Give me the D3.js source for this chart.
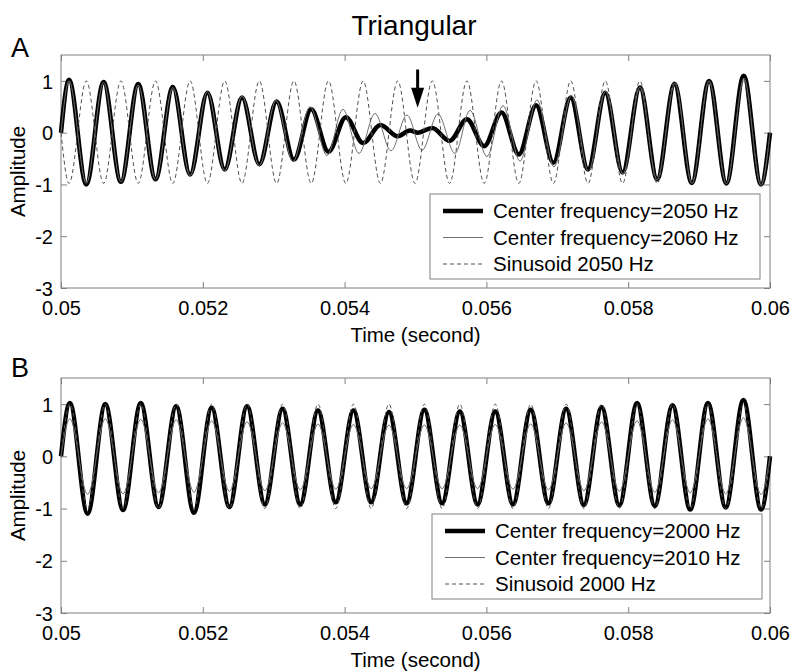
<!DOCTYPE html>
<html>
<head>
<meta charset="utf-8">
<script src="https://cdn.jsdelivr.net/npm/d3@7"></script>
<style>
  body { margin: 0; background: #fff; }
</style>
</head>
<body>
<script>
// ---- data (extrema of each waveform, seconds / amplitude) ----
const xTicks = [0.05, 0.052, 0.054, 0.056, 0.058, 0.06];
const xTickLabels = ["0.05", "0.052", "0.054", "0.056", "0.058", "0.06"];
const yTicks = [-3, -2, -1, 0, 1];

// Panel A
const tCenterA = [0.05, 0.050113, 0.050357, 0.050601, 0.050845, 0.051089, 0.051333, 0.051577, 0.051821, 0.052065, 0.052309,
  0.052553, 0.052797, 0.053041, 0.053285, 0.053529, 0.053773, 0.054017, 0.054261, 0.054505, 0.054749, 0.054922, 0.055035,
  0.055237, 0.055481, 0.055725, 0.055969, 0.056213, 0.056457, 0.056701, 0.056945, 0.057189, 0.057433, 0.057677, 0.057921,
  0.058165, 0.058409, 0.058653, 0.058897, 0.059141, 0.059385, 0.059629, 0.059873, 0.06];
const vCenterA = [0, 1.02, -1.0, 0.98, -0.95, 0.94, -0.9, 0.88, -0.81, 0.77, -0.71, 0.68, -0.61, 0.6, -0.52, 0.45, -0.37,
  0.3, -0.2, 0.15, -0.07, 0.04, 0.0, 0.09, -0.16, 0.26, -0.26, 0.39, -0.42, 0.53, -0.58, 0.68, -0.71, 0.77, -0.77, 0.87,
  -0.9, 0.94, -0.97, 1.0, -0.98, 1.1, -1.0, 0];

const tThinA = [0.05, 0.050113, 0.050357, 0.050601, 0.050845, 0.051089, 0.051333, 0.051577, 0.051821, 0.052065, 0.052309,
  0.052553, 0.052797, 0.053032, 0.053272, 0.053512, 0.053752, 0.053977, 0.054203, 0.054429, 0.054654, 0.05488, 0.055092,
  0.055317, 0.055557, 0.055769, 0.056008, 0.056234, 0.056474, 0.056714, 0.056953, 0.0572, 0.05744, 0.05768, 0.057927,
  0.058166, 0.058406, 0.05866, 0.0589, 0.05914, 0.059386, 0.059633, 0.059873, 0.06];
const vThinA = [0, 1.0, -0.98, 0.97, -0.95, 0.92, -0.91, 0.87, -0.83, 0.79, -0.74, 0.71, -0.64, 0.62, -0.56, 0.5, -0.44,
  0.45, -0.4, 0.37, -0.35, 0.34, -0.34, 0.36, -0.4, 0.43, -0.46, 0.52, -0.55, 0.63, -0.66, 0.72, -0.75, 0.8, -0.8, 0.88,
  -0.91, 0.95, -0.98, 1.0, -0.99, 1.05, -1.02, 0];

const tSineA = [0.05, 0.050113, 0.050357, 0.050601, 0.050845, 0.051089, 0.051333, 0.051577, 0.051821, 0.052065, 0.052309,
  0.052553, 0.052797, 0.053041, 0.053285, 0.053529, 0.053773, 0.054017, 0.054261, 0.054505, 0.054749, 0.054993, 0.055237,
  0.055481, 0.055725, 0.055969, 0.056213, 0.056457, 0.056701, 0.056945, 0.057189, 0.057433, 0.057677, 0.057921, 0.058165,
  0.058409, 0.058653, 0.058897, 0.059141, 0.059385, 0.059629, 0.059873, 0.06];
const vSineA = [0, -0.98, 1, -0.98, 1, -0.98, 1, -0.98, 1, -0.98, 1, -0.98, 1, -0.98, 1, -0.98, 1, -0.98, 1, -0.98, 1,
  -0.98, 1, -0.98, 1, -0.98, 1, -0.98, 1, -0.98, 1, -0.98, 1, -0.98, 1, -0.98, 1, -0.98, 1, -0.98, 1, -0.98, 0];

// Panel B
const tB = [0.05, 0.050125, 0.050375, 0.050625, 0.050875, 0.051125, 0.051375, 0.051625, 0.051875, 0.052125, 0.052375,
  0.052625, 0.052875, 0.053125, 0.053375, 0.053625, 0.053875, 0.054125, 0.054375, 0.054625, 0.054875, 0.055125, 0.055375,
  0.055625, 0.055875, 0.056125, 0.056375, 0.056625, 0.056875, 0.057125, 0.057375, 0.057625, 0.057875, 0.058125, 0.058375,
  0.058625, 0.058875, 0.059125, 0.059375, 0.059625, 0.059875, 0.06];
const vCenterB = [0, 1.02, -1.1, 1.0, -1.03, 1.02, -0.97, 0.96, -1.08, 0.93, -0.97, 0.96, -0.92, 0.91, -0.92, 0.88, -0.88,
  0.88, -0.88, 0.85, -0.9, 0.89, -0.9, 0.86, -0.92, 0.86, -0.92, 0.89, -0.9, 0.91, -0.93, 0.94, -0.94, 1.02, -0.95, 0.98,
  -1.02, 1.02, -0.98, 1.08, -1.02, 0];
const vThinB = [0, 0.72, -0.73, 0.72, -0.72, 0.71, -0.7, 0.7, -0.69, 0.68, -0.67, 0.66, -0.66, 0.64, -0.64, 0.62, -0.63,
  0.61, -0.62, 0.6, -0.62, 0.6, -0.62, 0.6, -0.62, 0.61, -0.63, 0.62, -0.64, 0.64, -0.66, 0.66, -0.67, 0.68, -0.69, 0.7,
  -0.7, 0.72, -0.72, 0.74, -0.73, 0];
const vSineB = [0, 1, -1, 1, -1, 1, -1, 1, -1, 1, -1, 1, -1, 1, -1, 1, -1, 1, -1, 1, -1, 1, -1, 1, -1, 1, -1, 1, -1, 1, -1,
  1, -1, 1, -1, 1, -1, 1, -1, 1, -1, 0];

const zip = (t, v) => t.map((d, i) => [d, v[i]]);

const styles = {
  center: { stroke: "#000", width: 4.5, dash: null },
  thin: { stroke: "#707070", width: 1, dash: null },
  sine: { stroke: "#505050", width: 1, dash: "4,3" }
};

const panels = [
  {
    letter: "A", top: 55, bottom: 288, letterY: 57,
    legend: { x: 430, y: 194, w: 330, h: 85 },
    series: [
      { label: "Center frequency=2050 Hz", style: "center", data: zip(tCenterA, vCenterA) },
      { label: "Center frequency=2060 Hz", style: "thin", data: zip(tThinA, vThinA) },
      { label: "Sinusoid 2050 Hz", style: "sine", data: zip(tSineA, vSineA) }
    ],
    arrow: { t: 0.05503, from: 1.22, to: 0.48 }
  },
  {
    letter: "B", top: 378, bottom: 613, letterY: 377,
    legend: { x: 432, y: 514, w: 330, h: 85 },
    series: [
      { label: "Center frequency=2000 Hz", style: "center", data: zip(tB, vCenterB) },
      { label: "Center frequency=2010 Hz", style: "thin", data: zip(tB, vThinB) },
      { label: "Sinusoid 2000 Hz", style: "sine", data: zip(tB, vSineB) }
    ]
  }
];

const width = 792, height = 671;
const left = 61, right = 770;
const axisColor = "#808080";

const svg = d3.select("body").append("svg")
  .attr("width", width)
  .attr("height", height)
  .style("font-family", "'Liberation Sans', Arial, Helvetica, sans-serif");

svg.append("text")
  .attr("x", 414).attr("y", 35)
  .attr("text-anchor", "middle")
  .attr("font-size", 28)
  .text("Triangular");

panels.forEach(p => {
  const x = d3.scaleLinear().domain([0.05, 0.06]).range([left, right]);
  const y = d3.scaleLinear().domain([-3, 1.5]).range([p.bottom, p.top]);
  const g = svg.append("g");

  // axes, ticks inward on all four sides
  const styleAxis = (sel) => {
    sel.attr("font-family", null).attr("font-size", 20);
    sel.select(".domain").remove();
    sel.selectAll(".tick line").attr("stroke", axisColor);
    sel.selectAll(".tick text").attr("fill", "#000");
  };

  g.append("g").attr("transform", `translate(0,${p.bottom})`)
    .call(d3.axisBottom(x).tickValues(xTicks).tickFormat((d, i) => xTickLabels[i]).tickSizeInner(-6).tickSizeOuter(0))
    .call(styleAxis)
    .call(s => s.selectAll(".tick text").attr("y", 27).attr("dy", null));

  g.append("g").attr("transform", `translate(0,${p.top})`)
    .call(d3.axisTop(x).tickValues(xTicks).tickFormat("").tickSizeInner(-6).tickSizeOuter(0))
    .call(styleAxis);

  g.append("g").attr("transform", `translate(${left},0)`)
    .call(d3.axisLeft(y).tickValues(yTicks).tickFormat(d => String(d)).tickSizeInner(-6).tickSizeOuter(0))
    .call(styleAxis)
    .call(s => s.selectAll(".tick text").attr("x", -8).attr("dy", "0.36em"));

  g.append("g").attr("transform", `translate(${right},0)`)
    .call(d3.axisRight(y).tickValues(yTicks).tickFormat("").tickSizeInner(-6).tickSizeOuter(0))
    .call(styleAxis);

  g.append("rect")
    .attr("x", left).attr("y", p.top)
    .attr("width", right - left).attr("height", p.bottom - p.top)
    .attr("fill", "none").attr("stroke", axisColor).attr("stroke-width", 1);

  // waveforms
  const line = d3.line()
    .x(d => x(d[0]))
    .y(d => y(d[1]))
    .curve(d3.curveMonotoneX);

  p.series.forEach(s => {
    const st = styles[s.style];
    g.append("path")
      .datum(s.data)
      .attr("d", line)
      .attr("fill", "none")
      .attr("stroke", st.stroke)
      .attr("stroke-width", st.width)
      .attr("stroke-linejoin", "round")
      .attr("stroke-dasharray", st.dash);
  });

  // arrow marking the null
  if (p.arrow) {
    const ax = x(p.arrow.t), y0 = y(p.arrow.from), y1 = y(p.arrow.to);
    g.append("line")
      .attr("x1", ax).attr("x2", ax)
      .attr("y1", y0).attr("y2", y1 - 16)
      .attr("stroke", "#000").attr("stroke-width", 3);
    g.append("path")
      .attr("d", `M${ax - 6.5},${y1 - 20}L${ax + 6.5},${y1 - 20}L${ax},${y1}Z`)
      .attr("fill", "#000");
  }

  // legend
  const L = p.legend;
  const lg = g.append("g").attr("transform", `translate(${L.x},${L.y})`);
  lg.append("rect")
    .attr("width", L.w).attr("height", L.h)
    .attr("fill", "#fff").attr("stroke", axisColor).attr("stroke-width", 1);
  p.series.forEach((s, i) => {
    const st = styles[s.style];
    const ry = 17 + i * 26.5;
    lg.append("line")
      .attr("x1", 13).attr("x2", 53)
      .attr("y1", ry).attr("y2", ry)
      .attr("stroke", st.stroke)
      .attr("stroke-width", st.width)
      .attr("stroke-dasharray", st.dash);
    lg.append("text")
      .attr("x", 63).attr("y", ry + 7)
      .attr("font-size", 20.5)
      .text(s.label);
  });

  // panel letter and axis titles
  svg.append("text")
    .attr("x", 11).attr("y", p.letterY)
    .attr("font-size", 27)
    .text(p.letter);

  svg.append("text")
    .attr("x", (left + right) / 2)
    .attr("y", p.bottom + 54)
    .attr("text-anchor", "middle")
    .attr("font-size", 20.5)
    .text("Time (second)");

  svg.append("text")
    .attr("transform", `translate(25,${(p.top + p.bottom) / 2}) rotate(-90)`)
    .attr("text-anchor", "middle")
    .attr("font-size", 20.5)
    .text("Amplitude");
});
</script>
</body>
</html>
